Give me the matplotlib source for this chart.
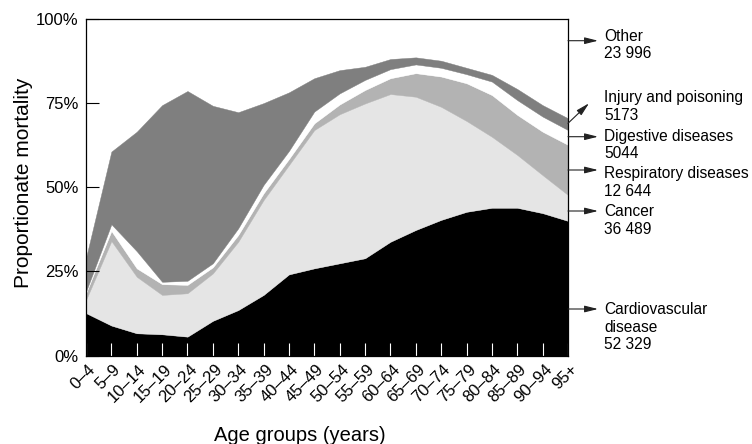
import matplotlib
matplotlib.use("Agg")
import matplotlib.pyplot as plt
from matplotlib.patches import FancyArrowPatch
from matplotlib.transforms import ScaledTranslation

plt.rcParams['font.family'] = ['Liberation Sans', 'DejaVu Sans']

age_groups = ['0–4', '5–9', '10–14', '15–19', '20–24', '25–29', '30–34', '35–39',
              '40–44', '45–49', '50–54', '55–59', '60–64', '65–69', '70–74', '75–79',
              '80–84', '85–89', '90–94', '95+']

# proportionate mortality (%) by cause
cardiovascular = [12.6, 8.9, 6.6, 6.3, 5.6, 10.3, 13.5, 18.0, 24.1, 25.9, 27.4, 28.9,
                  33.8, 37.3, 40.3, 42.7, 43.9, 43.9, 42.3, 40.0]
cancer = [3.9, 25.1, 16.8, 11.7, 12.9, 14.1, 20.3, 28.2, 32.5, 41.1, 44.3, 46.0,
          43.9, 39.6, 33.6, 27.0, 21.1, 15.7, 11.3, 7.7]
respiratory = [2.0, 3.0, 2.5, 3.2, 2.5, 1.8, 2.0, 2.0, 1.8, 2.0, 2.9, 4.0,
               4.7, 7.0, 9.0, 11.2, 12.4, 11.9, 12.9, 14.9]
digestive = [0.5, 2.0, 5.1, 0.7, 1.2, 1.2, 2.0, 2.5, 2.4, 3.5, 3.3, 3.0,
             2.7, 2.6, 2.6, 2.7, 4.0, 4.4, 4.5, 4.4]
injury = [10.0, 21.6, 35.5, 52.5, 56.4, 46.8, 34.5, 24.3, 17.4, 9.9, 6.9, 3.9,
          3.0, 2.1, 2.1, 1.9, 2.0, 3.3, 3.4, 3.5]

cause_labels = ['Other\n23 996', 'Injury and poisoning\n5173', 'Digestive diseases\n5044',
                'Respiratory diseases\n12 644', 'Cancer\n36 489',
                'Cardiovascular\ndisease\n52 329']

W, H = 752, 444
fig = plt.figure(figsize=(W / 100, H / 100), dpi=100)
ax = fig.add_axes([86 / W, 1 - 355.5 / H, (568 - 86) / W, (355.5 - 19) / H])

x = list(range(len(age_groups)))
colors = ['#000000', '#e5e5e5', '#b3b3b3', '#ffffff', '#7f7f7f']
polys = ax.stackplot(x, cardiovascular, cancer, respiratory, digestive, injury,
                     colors=colors, linewidth=0.3)
for p, c in zip(polys, colors):
    p.set_edgecolor(c)

ax.set_xlim(0, len(age_groups) - 1)
ax.set_ylim(0, 100)
ax.set_yticks([0, 25, 50, 75, 100])
ax.set_yticklabels(['0%', '25%', '50%', '75%', '100%'], fontsize=12)
ax.tick_params(axis='y', direction='in', length=9.4, width=0.8, color='black', pad=5.5)
ax.set_xticks(x)
ax.set_xticklabels(age_groups, fontsize=12, rotation=45, rotation_mode='anchor',
                   ha='right', va='center')
ax.tick_params(axis='x', direction='in', length=9.4, width=0.8, color='white', pad=8)
off = ScaledTranslation(5 / 72, 0, fig.dpi_scale_trans)
for lab in ax.get_xticklabels():
    lab.set_transform(lab.get_transform() + off)
for s in ax.spines.values():
    s.set_linewidth(0.9)
    s.set_color('black')

fig.text(24 / W, 1 - 183 / H, 'Proportionate mortality', rotation=90, fontsize=15,
         ha='center', va='center')
fig.text(300 / W, 1 - 441 / H, 'Age groups (years)', fontsize=14.5, ha='center',
         va='baseline')

# right-hand labels with arrows (pixel positions of arrow start, arrow end, first-line centre)
arrow_y0 = [40.7, 123.3, 136.7, 170.0, 211.0, 309.0]
arrow_y1 = [40.7, 103.3, 136.7, 170.0, 211.0, 309.0]
arrow_x1 = [598, 589, 598, 598, 598, 598]
text_y = [35.7, 97.3, 135.7, 173.3, 211.0, 309.0]
for lab, y0, y1, x1, ty in zip(cause_labels, arrow_y0, arrow_y1, arrow_x1, text_y):
    arr = FancyArrowPatch((568 / W, 1 - y0 / H), (x1 / W, 1 - y1 / H),
                          transform=fig.transFigure,
                          arrowstyle='-|>,head_length=0.8,head_width=0.2',
                          mutation_scale=10, lw=0.8, color='#222222',
                          shrinkA=0, shrinkB=0)
    fig.add_artist(arr)
    fig.text(604 / W, 1 - (ty - 7) / H, lab, fontsize=11.2, ha='left', va='top',
             linespacing=1.22)

fig.savefig('out.png', dpi=100)
